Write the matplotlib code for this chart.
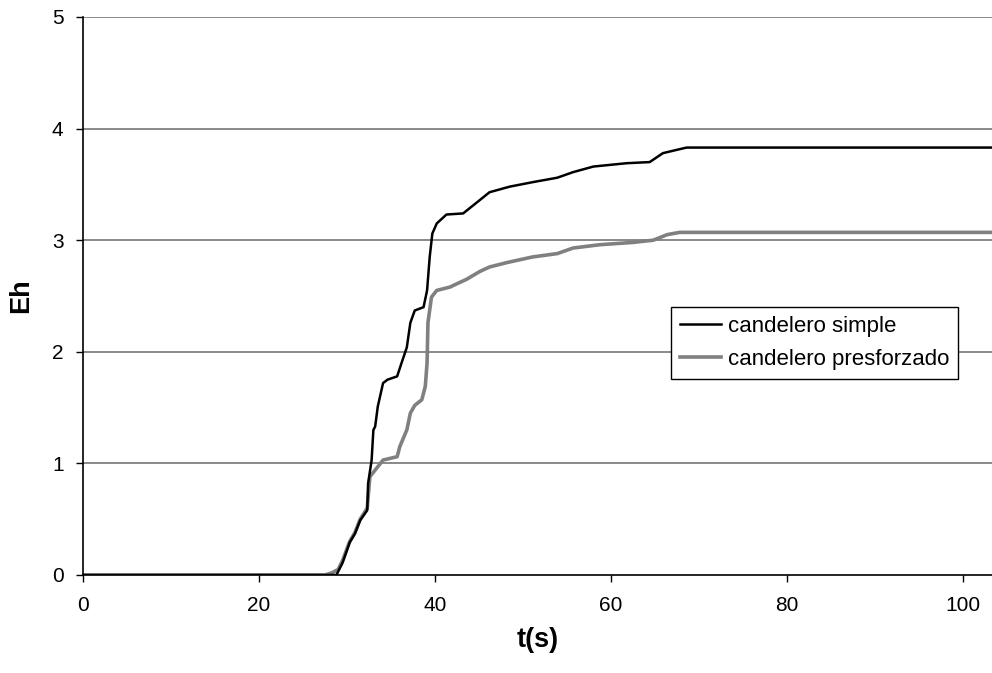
import matplotlib
matplotlib.use("Agg")
import matplotlib.pyplot as plt

plt.rcParams['font.family'] = ['Liberation Sans', 'DejaVu Sans']

# energia histeretica vs tiempo
t_simple = [0, 28.0, 28.8, 29.5, 30.3, 30.9, 31.5, 32.3, 32.4, 32.8, 33.0, 33.2, 33.5,
            34.1, 34.6, 35.7, 36.2, 36.8, 37.2, 37.7, 38.7, 39.1, 39.4, 39.7, 40.2,
            41.3, 43.2, 45.1, 46.2, 48.5, 51.1, 53.9, 55.7, 58.0, 61.8, 64.4, 65.9,
            67.5, 68.6, 104]
e_simple = [0, 0, 0.0, 0.11, 0.29, 0.37, 0.49, 0.58, 0.82, 1.03, 1.30, 1.33, 1.51,
            1.72, 1.75, 1.78, 1.90, 2.04, 2.26, 2.37, 2.40, 2.55, 2.85, 3.06, 3.15,
            3.23, 3.24, 3.36, 3.43, 3.48, 3.52, 3.56, 3.61, 3.66, 3.69, 3.70, 3.78,
            3.81, 3.83, 3.83]

t_pres = [0, 27.5, 28.3, 29.0, 29.5, 30.3, 30.9, 31.5, 32.3, 32.6, 33.2, 34.1, 35.7,
          36.0, 36.8, 37.2, 37.7, 38.5, 38.9, 39.1, 39.2, 39.6, 40.2, 41.7, 42.5,
          43.6, 45.1, 46.2, 48.2, 51.1, 53.9, 55.7, 58.8, 62.5, 64.8, 66.4, 67.8, 104]
e_pres = [0, 0, 0.02, 0.05, 0.13, 0.30, 0.38, 0.50, 0.60, 0.88, 0.94, 1.03, 1.06,
          1.15, 1.30, 1.45, 1.52, 1.57, 1.69, 1.90, 2.26, 2.49, 2.55, 2.58, 2.61,
          2.65, 2.72, 2.76, 2.80, 2.85, 2.88, 2.93, 2.96, 2.98, 3.00, 3.05, 3.07, 3.07]

x_ticks = [0, 20, 40, 60, 80, 100]
y_ticks = [0, 1, 2, 3, 4, 5]

fig = plt.figure(figsize=(9.92, 6.73), dpi=100)
ax = fig.add_axes([83 / 992, 98 / 673, 909 / 992, 558 / 673])

for y in y_ticks[1:]:
    ax.axhline(y, color='#808080', lw=1.3, zorder=1)

ax.plot(t_simple, e_simple, color='black', lw=1.8, label='candelero simple', zorder=3)
ax.plot(t_pres, e_pres, color='#808080', lw=2.6, label='candelero presforzado', zorder=2)

ax.set_xlim(0, 103.3)
ax.set_ylim(0, 5)
ax.set_xticks(x_ticks)
ax.set_yticks(y_ticks)
ax.tick_params(direction='out', length=5, width=1, labelsize=15)
ax.tick_params(axis='x', pad=10)
ax.tick_params(axis='y', pad=9)

for s in ['top', 'right']:
    ax.spines[s].set_visible(False)
for s in ['left', 'bottom']:
    ax.spines[s].set_linewidth(1.2)

ax.set_xlabel('t(s)', fontsize=19.5, fontweight='bold', labelpad=9)
ax.set_ylabel('Eh', fontsize=19.5, fontweight='bold', labelpad=13)

leg = ax.legend(loc='upper left', bbox_to_anchor=(0.647, 0.480), borderaxespad=0,
                fontsize=16, fancybox=False, framealpha=1, edgecolor='black',
                handlelength=1.85, handletextpad=0.3, borderpad=0.4, labelspacing=0.55)
leg.get_frame().set_linewidth(1.0)

fig.savefig('out.png', dpi=100)
